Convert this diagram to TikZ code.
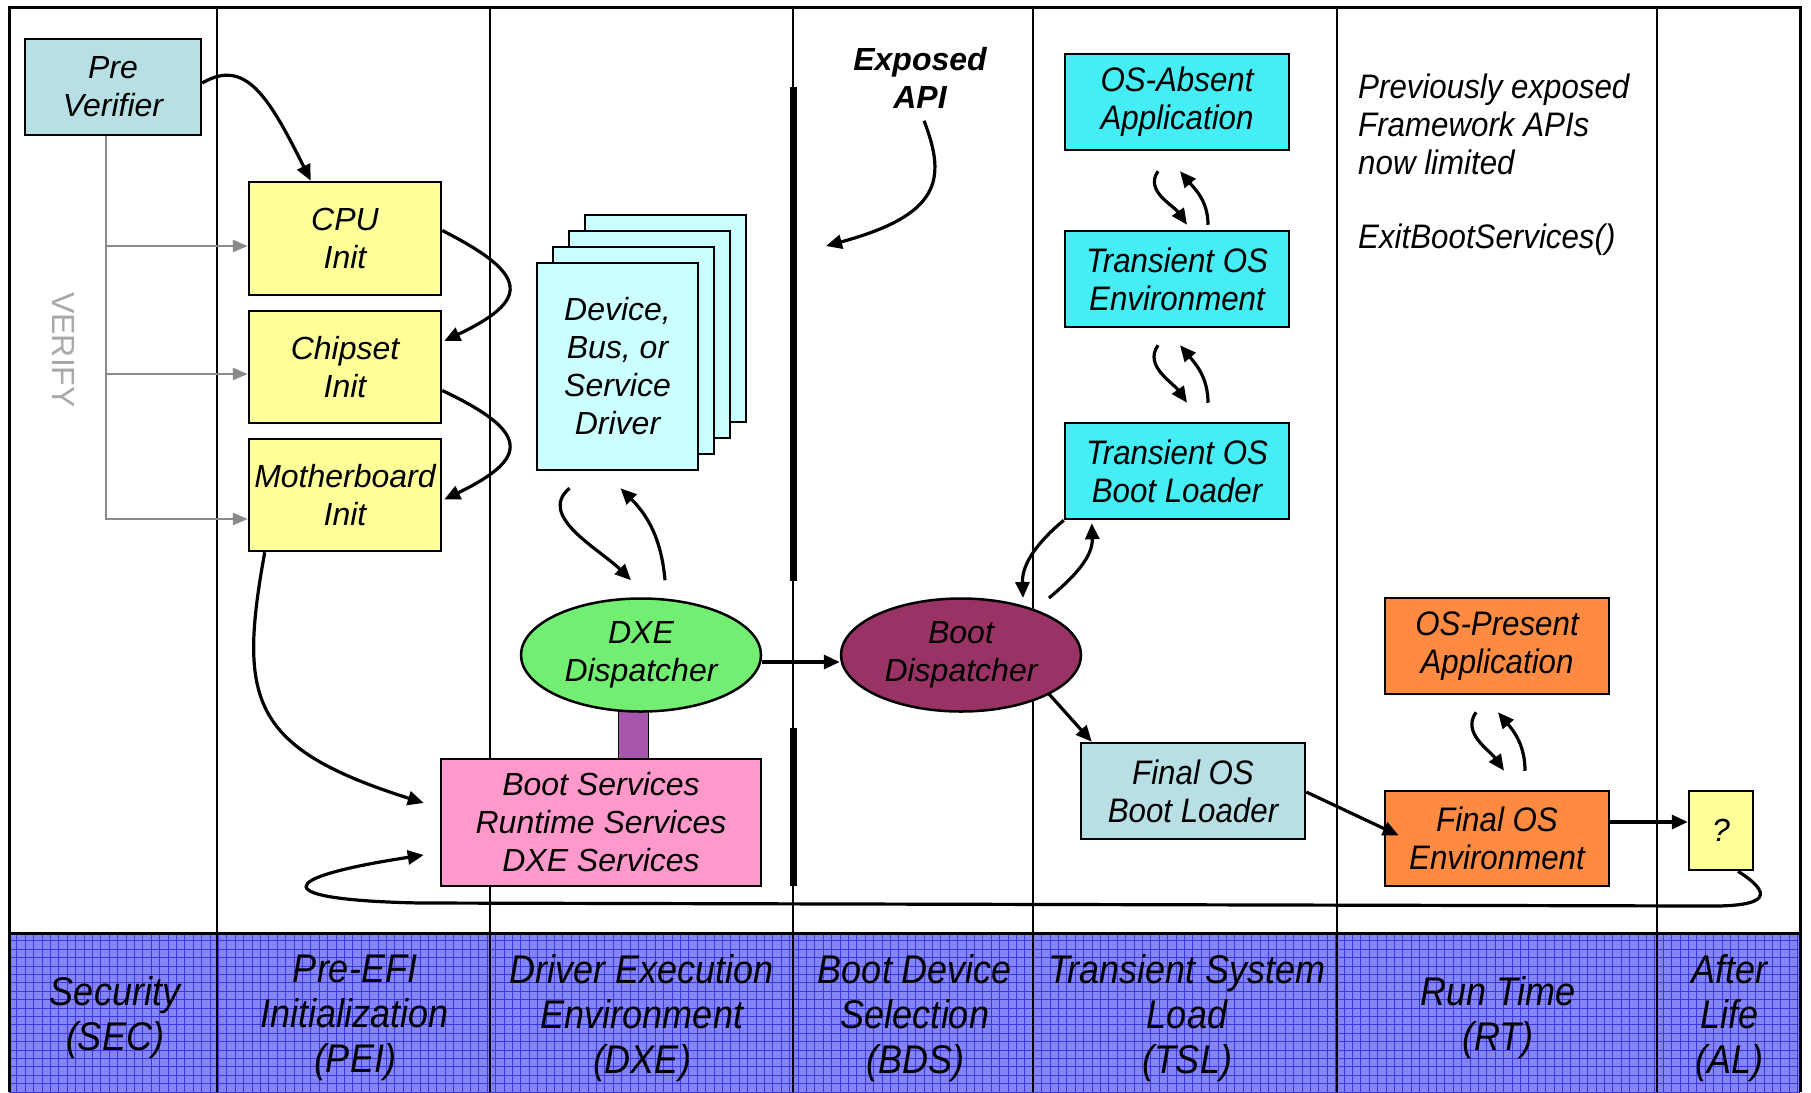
\documentclass[tikz,border=0pt]{standalone}
\usepackage{fontspec}
\setmainfont{Liberation Sans}
\newfontfamily\narrowsans[FakeStretch=0.92]{Liberation Sans}
\newfontfamily\bandsans[FakeStretch=0.9]{Liberation Sans}
\usetikzlibrary{arrows.meta,shapes.geometric,calc}

\definecolor{preblue}{HTML}{B8E0E4}
\definecolor{inityellow}{HTML}{FFFF99}
\definecolor{drvcyan}{HTML}{CCFFFF}
\definecolor{svcpink}{HTML}{FF99CC}
\definecolor{dxegreen}{HTML}{72EE72}
\definecolor{bootplum}{HTML}{993366}
\definecolor{connplum}{HTML}{A656AC}
\definecolor{tslcyan}{HTML}{45EEF5}
\definecolor{rtorange}{HTML}{FF8A42}
\definecolor{bandblue}{HTML}{8484F6}
\definecolor{bandgrid}{HTML}{3A3AE2}
\definecolor{vgray}{HTML}{8A8A8A}
\definecolor{vtext}{HTML}{A8A8A8}

\tikzset{
  lbl/.style={font=\fontsize{32}{38}\selectfont\itshape},
  nlbl/.style={font=\narrowsans\fontsize{34}{38}\selectfont\itshape},
  bandlbl/.style={font=\bandsans\fontsize{40}{45}\selectfont\itshape, align=center, inner sep=0pt},
  box/.style={draw, line width=2.5pt, rectangle, inner sep=0pt, align=center, lbl},
  nbox/.style={box, nlbl},
  disp/.style={draw, line width=2.5pt, ellipse, minimum width=240pt, minimum height=113pt,
               inner sep=0pt, align=center, lbl},
  flow/.style={line width=3.2pt, -{Triangle[length=16pt,width=14pt]}},
  vfy/.style={line width=2.5pt, draw=vgray, -{Triangle[length=15pt,width=12pt]}},
  divider/.style={line width=2.5pt},
}

\begin{document}
\begin{tikzpicture}[x=1pt,y=1pt]
\useasboundingbox (0,0) rectangle (1811,-1092);
\fill[white] (0,0) rectangle (1811,-1092);

% phase band with its woven texture
\begin{scope}
  \clip (9,-933) rectangle (1800,-1092);
  \fill[bandblue] (9,-933) rectangle (1800,-1092);
  \draw[bandgrid, line width=0.9pt, step=8.4pt] (0,-926) grid (1811,-1098);
\end{scope}

% frame and phase columns
\draw[line width=3pt] (9,-1092) -- (9,-7) -- (1800,-7) -- (1800,-1092);
\draw[line width=3pt] (9,-933) -- (1800,-933);
\foreach \xc in {217,490,793,1033,1337,1657}
  \draw[divider] (\xc,-7) -- (\xc,-1092);

% phase names
\node[bandlbl] (sec) at (115,-1018) {Security\\(SEC)};
\node[bandlbl] (pei) at (355,-1018) {Pre-EFI\\Initialization\\(PEI)};
\node[bandlbl] (dxeph) at (642,-1018) {Driver Execution\\Environment\\(DXE)};
\node[bandlbl] (bds) at (915,-1018) {Boot Device\\Selection\\(BDS)};
\node[bandlbl] (tsl) at (1187,-1018) {Transient System\\Load\\(TSL)};
\node[bandlbl] (rt) at (1498,-1018) {Run Time\\(RT)};
\node[bandlbl] (al) at (1729,-1018) {After\\Life\\(AL)};

% SEC and PEI
\node[box, fill=preblue, minimum width=176pt, minimum height=96pt] (pre) at (113,-87) {Pre\\Verifier};
\node[box, fill=inityellow, minimum width=192pt, minimum height=113pt] (cpu) at (345,-238.5) {CPU\\Init};
\node[box, fill=inityellow, minimum width=192pt, minimum height=112pt] (chip) at (345,-367) {Chipset\\Init};
\node[box, fill=inityellow, minimum width=192pt, minimum height=112pt] (mobo) at (345,-495) {Motherboard\\Init};

\node[rotate=-90, font=\fontsize{32}{38}\selectfont, text=vtext] (verify) at (64,-350) {VERIFY};

\coordinate (vtop) at ($(pre.south)+(-7,0)$);
\coordinate (cpuin) at ($(cpu.west)+(0,-7.5)$);
\coordinate (chipin) at ($(chip.west)+(0,-7)$);
\coordinate (moboin) at ($(mobo.west)+(0,-24)$);
\draw[vfy] (vtop) |- (moboin);
\draw[vfy] (vtop |- cpuin) -- (cpuin);
\draw[vfy] (vtop |- chipin) -- (chipin);

% DXE
\foreach \k/\nm in {3/drvc,2/drvb,1/drva}
  \node[draw, line width=2.5pt, fill=drvcyan, minimum width=161pt, minimum height=207pt]
    (\nm) at (617.5+16*\k,-366.5+16*\k) {};
\node[box, fill=drvcyan, minimum width=161pt, minimum height=207pt] (dev) at (617.5,-366.5)
  {Device,\\Bus, or\\Service\\Driver};

\fill[connplum, draw=black, line width=1pt] (618,-711) rectangle (648,-759);
\node[disp, fill=dxegreen] (dxe) at (641,-655) {DXE\\Dispatcher};
\node[box, fill=svcpink, minimum width=320pt, minimum height=127pt] (svc) at (601,-822.5)
  {Boot Services\\Runtime Services\\DXE Services};

% BDS
\draw[line width=7pt] (793,-87) -- (793,-581);
\draw[line width=7pt] (793,-728) -- (793,-886);
\node[font=\fontsize{32}{38}\selectfont\bfseries\itshape, align=center, inner sep=0pt] (api) at (920,-78) {Exposed\\API};
\node[disp, fill=bootplum] (bootd) at (961,-655) {Boot\\Dispatcher};

% TSL
\node[nbox, fill=tslcyan, minimum width=224pt, minimum height=96pt] (osabs) at (1177,-102) {OS-Absent\\Application};
\node[nbox, fill=tslcyan, minimum width=224pt, minimum height=96pt] (tenv) at (1177,-279) {Transient OS\\Environment};
\node[nbox, fill=tslcyan, minimum width=224pt, minimum height=96pt] (tbl) at (1177,-471) {Transient OS\\Boot Loader};
\node[nbox, fill=preblue, minimum width=224pt, minimum height=96pt] (fbl) at (1193,-791) {Final OS\\Boot Loader};

% RT
\node[nlbl, align=left, anchor=west, inner sep=0pt] (prev) at (1358,-124)
  {Previously exposed\\Framework APIs\\now limited};
\node[nlbl, anchor=west, inner sep=0pt] (ebs) at (1358,-240) {ExitBootServices()};
\node[nbox, fill=rtorange, minimum width=224pt, minimum height=96pt] (ospres) at (1497,-646) {OS-Present\\Application};
\node[nbox, fill=rtorange, minimum width=224pt, minimum height=95pt] (fenv) at (1497,-838.5) {Final OS\\Environment};

% AL
\node[box, fill=inityellow, minimum width=64pt, minimum height=79pt] (qbox) at (1721,-830.5) {?};

% PEI flow
\draw[flow] ($(pre.east)+(0,4)$) .. controls (245,-58) and (268,-95) .. ($(cpu.north west)+(63,0)$);
\draw[flow] ($(cpu.east)+(0,8)$) .. controls (530,-275) and (530,-300) .. ($(chip.east)+(2,26)$);
\draw[flow] ($(chip.east)+(0,-23.5)$) .. controls (530,-432) and (530,-458) .. ($(mobo.east)+(2,-4.5)$);
\draw[flow] ($(mobo.south west)+(17,0)$) .. controls (238,-700) and (250,-748) .. ($(svc.west)+(-16,19.5)$);

% DXE flow
\draw[flow] ($(dev.south)+(-48,-17)$) to[out=220,in=135] ($(dxe.north)+(-10,17)$);
\draw[flow] ($(dxe.north)+(24,17)$) to[out=95,in=-45] ($(dev.south)+(3,-17)$);
\draw[flow] ($(dxe.east)+(0,-7)$) -- ($(bootd.west)+(0,-7)$);

% BDS flow
\draw[flow] ($(api.south)+(4,-12)$) .. controls (947,-180) and (940,-215) .. (826,-246);
\draw[flow] (tbl.south west) to[out=220,in=92] ($(bootd.center)+(62,57)$);
\draw[flow] ($(bootd.center)+(88,57)$) to[out=40,in=-88] ($(tbl.south west)+(28,-3)$);
\draw[flow] ($(bootd.center)+(88,-39)$) -- ($(fbl.north west)+(12,0)$);

% TSL flow
\draw[flow] ($(osabs.south)+(-19,-20)$) to[out=235,in=125] ($(tenv.north)+(10,5)$);
\draw[flow] ($(tenv.north)+(31,5)$) to[out=90,in=-50] ($(osabs.south)+(3,-20)$);
\draw[flow] ($(tenv.south)+(-19,-17)$) to[out=235,in=125] ($(tbl.north)+(10,19)$);
\draw[flow] ($(tbl.north)+(31,19)$) to[out=90,in=-50] ($(tenv.south)+(3,-17)$);
\draw[flow] ($(fbl.east)+(0,-1)$) -- ($(fenv.west)+(15,3)$);

% RT flow
\draw[flow] ($(ospres.south)+(-21,-17)$) to[out=235,in=125] ($(fenv.north)+(7,19)$);
\draw[flow] ($(fenv.north)+(28,19)$) to[out=90,in=-50] ($(ospres.south)+(1,-17)$);
\draw[flow] ($(fenv.east)+(0,16.5)$) -- ($(qbox.west)+(0,8.5)$);

% return path from the after-life box back to the services
\draw[flow] ($(qbox.south)+(17,0)$) .. controls (1772,-893) and (1772,-907) .. (1705,-906)
  -- (420,-903) .. controls (268,-900) and (272,-878) .. ($(svc.west)+(-16,-32.5)$);

\end{tikzpicture}
\end{document}
